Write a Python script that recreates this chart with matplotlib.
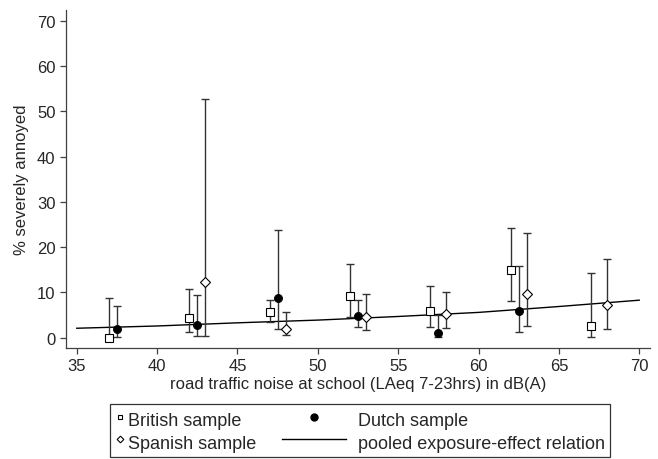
import numpy as np
import matplotlib
matplotlib.use("Agg")
import matplotlib.pyplot as plt
from matplotlib.lines import Line2D
from matplotlib.legend_handler import HandlerBase

# ---------- DATA ----------
brit_x = [37, 42, 47, 52, 57, 62, 67]
brit_y = [0.0, 4.3, 5.6, 9.3, 5.8, 15.0, 2.7]
brit_lo = [0.0, 1.2, 3.5, 4.5, 2.3, 8.2, 0.1]
brit_hi = [8.7, 10.8, 8.4, 16.4, 11.4, 24.2, 14.2]

dutch_x = [37.5, 42.5, 47.5, 52.5, 57.5, 62.5]
dutch_y = [1.9, 2.9, 8.7, 4.8, 1.0, 5.8]
dutch_lo = [0.2, 0.3, 1.9, 2.4, 0.1, 1.3]
dutch_hi = [7.0, 9.5, 23.8, 8.3, 5.0, 15.9]

span_x = [43, 48, 53, 58, 63, 68]
span_y = [12.4, 1.9, 4.6, 5.2, 9.7, 7.2]
span_lo = [0.3, 0.5, 1.8, 2.1, 2.7, 1.9]
span_hi = [52.8, 5.6, 9.7, 10.2, 23.1, 17.4]

pooled_x = [35, 40, 45, 50, 55, 60, 65, 70]
pooled_y = [2.1, 2.6, 3.3, 3.9, 4.7, 5.6, 6.9, 8.3]

x_ticks = [35, 40, 45, 50, 55, 60, 65, 70]
y_ticks = [0, 10, 20, 30, 40, 50, 60, 70]

# ---------- STYLE ----------
plt.rcParams['font.family'] = ['Liberation Sans', 'DejaVu Sans']
AXC = '#404040'
TXT = '#262626'
ERR = '#333333'


class OffsetHandler(HandlerBase):
    # draws line/marker at a custom offset (in em) from the handle box
    def __init__(self, x0, x1, **kw):
        super().__init__(**kw)
        self.x0, self.x1 = x0, x1

    def create_artists(self, legend, orig_handle, xdescent, ydescent,
                       width, height, fontsize, trans):
        y = (height - ydescent) / 2
        a = -xdescent + self.x0 * fontsize
        b = -xdescent + self.x1 * fontsize
        ln = Line2D([a, (a + b) / 2, b], [y, y, y], markevery=[1])
        self.update_prop(ln, orig_handle, legend)
        ln.set_transform(trans)
        return [ln]


def draw_ci(ax, x, y, lo, hi, **kw):
    y = np.array(y)
    err = [y - np.array(lo), np.array(hi) - y]
    ax.errorbar(x, y, yerr=err, fmt='none', ecolor=ERR, elinewidth=1.0,
                capsize=3.1, capthick=1.0, zorder=2)
    ax.plot(x, y, linestyle='none', zorder=3, **kw)


# ---------- PLOT ----------
fig = plt.figure(figsize=(6.58, 4.60), dpi=100)
ax = fig.add_axes([66 / 658, 1 - 349.3 / 460, (650 - 66) / 658, (349.3 - 11) / 460])

ax.plot(pooled_x, pooled_y, color='black', lw=1.0, zorder=1)
draw_ci(ax, brit_x, brit_y, brit_lo, brit_hi, marker='s', ms=5.2,
        mfc='white', mec='black', mew=0.8)
draw_ci(ax, dutch_x, dutch_y, dutch_lo, dutch_hi, marker='o', ms=5.6,
        mfc='black', mec='black', mew=0.8)
draw_ci(ax, span_x, span_y, span_lo, span_hi, marker='D', ms=5.0,
        mfc='white', mec='black', mew=0.8)

ax.set_xlim(34.33, 70.67)
ax.set_ylim(-2.33, 72.4)
ax.set_xticks(x_ticks)
ax.set_yticks(y_ticks)
ax.spines['top'].set_visible(False)
ax.spines['right'].set_visible(False)
for s in ('left', 'bottom'):
    ax.spines[s].set_color(AXC)
    ax.spines[s].set_linewidth(0.9)
ax.tick_params(direction='out', length=4, width=0.9, color=AXC,
               labelsize=12, labelcolor=TXT)
ax.tick_params(axis='y', pad=3.5)
ax.tick_params(axis='x', pad=3)

ax.set_xlabel('road traffic noise at school (LAeq 7-23hrs) in dB(A)',
              fontsize=12, color=TXT, labelpad=2)
ax.set_ylabel('% severely annoyed', fontsize=12, color=TXT, labelpad=6)

# ---------- LEGEND ----------
h_brit = Line2D([], [], linestyle='none', marker='s', ms=3.4,
                mfc='white', mec='black', mew=0.8)
h_span = Line2D([], [], linestyle='none', marker='D', ms=3.4,
                mfc='white', mec='black', mew=0.8)
h_dutch = Line2D([], [], linestyle='none', marker='o', ms=5,
                 mfc='black', mec='black')
h_pool = Line2D([], [], color='black', lw=1.0)

leg = fig.legend(
    [h_brit, h_span, h_dutch, h_pool],
    ['British sample', 'Spanish sample', 'Dutch sample',
     'pooled exposure-effect relation'],
    handler_map={h_dutch: OffsetHandler(-3.46, 0.09),
                 h_pool: OffsetHandler(-3.46, 0.09)},
    ncol=2, loc='upper left', bbox_to_anchor=(110 / 658, 1 - 405 / 460),
    bbox_transform=fig.transFigure, borderaxespad=0,
    fontsize=13, handlelength=0.6, handleheight=1.45, handletextpad=0.15,
    columnspacing=4.9, borderpad=0.25, labelspacing=0.05,
    frameon=True, fancybox=False, edgecolor='#333333', framealpha=1,
)
leg.get_frame().set_linewidth(0.9)
for t in leg.get_texts():
    t.set_color(TXT)

fig.savefig('out.png', dpi=100)
